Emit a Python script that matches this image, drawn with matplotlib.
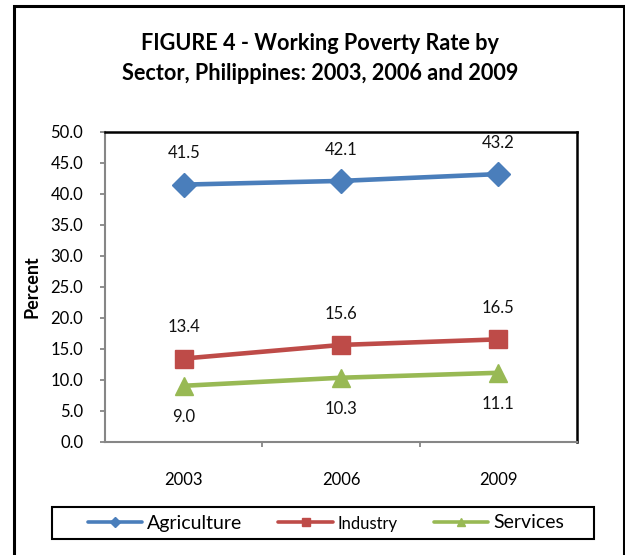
import matplotlib.pyplot as plt
from matplotlib.patches import Rectangle

# Data
years = ['2003', '2006', '2009']
agriculture = [41.5, 42.1, 43.2]
industry = [13.4, 15.6, 16.5]
services = [9.0, 10.3, 11.1]

plt.rcParams['font.family'] = ['Lato', 'DejaVu Sans']

W, H = 625, 555
fig = plt.figure(figsize=(W / 100, H / 100), dpi=100)
ax = fig.add_axes([105 / W, 1 - 441.5 / H, (577 - 105) / W, (441.5 - 132) / H])

# outer frame of the figure
fig.patches.append(Rectangle((14 / W, -0.05), (624 - 14) / W, 1.05 - 6 / H,
                             transform=fig.transFigure, fill=False,
                             edgecolor='black', linewidth=2.2))

x = list(range(len(years)))
series = [
    ('Agriculture', agriculture, '#4A7EBB', 'D', 12, 1),
    ('Industry', industry, '#BE4B48', 's', 13, 1),
    ('Services', services, '#98B954', '^', 13, -1),
]
for name, vals, color, marker, ms, side in series:
    ax.plot(x, vals, color=color, marker=marker, markersize=ms, linewidth=3.3,
            label=name, solid_capstyle='round')
    # data labels above or below the markers
    for xi, v in zip(x, vals):
        ax.annotate(f'{v:.1f}', (xi, v), xytext=(0, 22.5 * side),
                    textcoords='offset points', ha='center', va='center',
                    fontsize=12, color='#111111')

ax.set_xlim(-0.5, 2.5)
ax.set_ylim(0, 50)
ax.set_yticks([i * 5 for i in range(11)])
ax.set_yticklabels([f'{i * 5:.1f}' for i in range(11)])
ax.tick_params(axis='y', length=3.6, width=1.3, color='#868686', pad=12,
               labelsize=12)

# category ticks sit between the years, labels at the centers
ax.set_xticks([0.5, 1.5])
ax.set_xticklabels([])
ax.tick_params(axis='x', which='major', length=3.6, width=1.3, color='#868686')
ax.set_xticks(x, years, minor=True)
ax.tick_params(axis='x', which='minor', length=0, pad=22, labelsize=12)

for s in ['left', 'bottom']:
    ax.spines[s].set_color('#868686')
    ax.spines[s].set_linewidth(1.5)
for s in ['top', 'right']:
    ax.spines[s].set_color('black')
    ax.spines[s].set_linewidth(1.8)

ax.set_ylabel('Percent', fontsize=13, fontweight='bold')
ax.yaxis.set_label_coords(-0.136, 0.5)

fig.text(0.512, 1 - 43 / H, 'FIGURE 4 - Working Poverty Rate by',
         ha='center', va='center', fontsize=15.6, fontweight='bold')
fig.text(0.512, 1 - 73 / H, 'Sector, Philippines: 2003, 2006 and 2009',
         ha='center', va='center', fontsize=15.6, fontweight='bold')

# legend box drawn separately so its padding can match
fig.patches.append(Rectangle((52 / W, 1 - 539 / H), (594 - 52) / W, 32 / H,
                             transform=fig.transFigure, fill=False,
                             edgecolor='black', linewidth=1.5))
leg = fig.legend(loc='center', bbox_to_anchor=(326 / W, 1 - 523 / H),
                 ncol=3, fontsize=14, frameon=False, handlelength=2.8,
                 markerscale=0.45, columnspacing=1.85, handletextpad=0.25,
                 borderpad=0.0, borderaxespad=0.0)
leg.get_texts()[1].set_fontsize(12)
for line in leg.get_lines():
    line.set_linewidth(2.6)

fig.savefig('out.png', dpi=100)
